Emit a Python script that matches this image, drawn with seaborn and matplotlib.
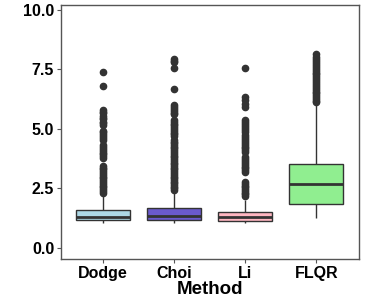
import numpy as np
import pandas as pd
import matplotlib
matplotlib.use("Agg")
import matplotlib.pyplot as plt
import seaborn as sns

# ---- data ----
methods = ["Dodge", "Choi", "Li", "FLQR"]
colors = ["#ADD8E6", "#6A5ACD", "#FFB6C1", "#90EE90"]

whisker_lo = [1.04, 1.05, 1.04, 1.25]
q1 = [1.16, 1.18, 1.15, 1.84]
median = [1.32, 1.35, 1.32, 2.68]
q3 = [1.60, 1.66, 1.53, 3.53]
whisker_hi = [2.20, 2.30, 2.00, 6.00]

out_dodge = [7.38, 6.81, 5.80, 5.73, 5.65, 5.56, 5.48, 5.40, 5.31, 5.24, 5.15,
             4.93, 4.86, 4.78, 4.70, 4.62, 4.54, 4.33, 4.25, 4.17, 4.09, 4.01,
             3.94, 3.86, 3.78, 3.45, 3.38, 3.30, 3.22, 3.15, 3.07, 3.00, 2.92,
             2.85, 2.77, 2.70, 2.62, 2.55, 2.47, 2.40, 2.33]
out_choi = [7.95, 7.87, 7.80, 7.55, 6.67, 6.00, 5.92, 5.84, 5.77, 5.69, 5.62,
            5.38, 5.30, 5.22, 5.15, 5.07, 5.00, 4.92, 4.84, 4.77, 4.70, 4.54,
            4.47, 4.40, 4.32, 4.25, 4.18, 4.10, 4.03, 3.96, 3.88, 3.81, 3.74,
            3.66, 3.59, 3.52, 3.44, 3.37, 3.30, 3.22, 3.15, 3.08, 3.00, 2.93,
            2.86, 2.78, 2.71, 2.64, 2.57, 2.50, 2.44]
out_li = [7.55, 6.36, 6.22, 6.05, 5.92, 5.36, 5.28, 5.20, 5.12, 5.04, 4.96,
          4.88, 4.74, 4.66, 4.58, 4.50, 4.42, 4.34, 4.26, 4.18, 4.10, 4.02,
          3.82, 3.74, 3.66, 3.58, 3.50, 3.42, 3.34, 3.26, 3.18, 2.77, 2.70,
          2.62, 2.55, 2.47, 2.40, 2.32, 2.25, 2.17]
out_flqr = [8.13, 8.02, 7.93, 7.85, 7.77, 7.69, 7.61, 7.53, 7.45, 7.37, 7.29,
            7.21, 7.13, 7.05, 6.97, 6.89, 6.81, 6.73, 6.65, 6.57, 6.49, 6.41,
            6.33, 6.26, 6.19, 6.12]
outliers = [out_dodge, out_choi, out_li, out_flqr]

# ---- build a table whose box statistics equal the values above ----
rows = []
for i, name in enumerate(methods):
    m = len(outliers[i]) + 1
    vals = ([whisker_lo[i]] + [q1[i]] * m + [median[i]] * m + [q3[i]] * m
            + [whisker_hi[i]] + list(outliers[i]))
    rows += [(name, v) for v in vals]
df = pd.DataFrame(rows, columns=["Method", "Value"])

# ---- plot ----
sns.set_theme(style="white")
plt.rcParams["font.family"] = ["Liberation Sans", "DejaVu Sans"]

fig = plt.figure(figsize=(3.66, 3.05), dpi=100)
ax = fig.add_axes([0.167, 0.151, 0.814, 0.833])

edge = "#333333"
sns.boxplot(data=df, x="Method", y="Value", hue="Method", order=methods,
            hue_order=methods, palette=colors, legend=False, width=0.76,
            linewidth=1.0, linecolor=edge, showcaps=False, saturation=1,
            medianprops=dict(color=edge, linewidth=2.0),
            flierprops=dict(marker="o", markersize=4.5, markerfacecolor=edge,
                            markeredgecolor=edge, alpha=1), ax=ax)

ax.set_xlim(-0.59, 3.6)
ax.set_ylim(-0.46, 10.21)
ax.set_yticks([0, 2.5, 5.0, 7.5, 10.0])
ax.set_yticklabels(["0.0", "2.5", "5.0", "7.5", "10.0"])
ax.set_ylabel("")
ax.set_xlabel("Method", fontsize=13.5, fontweight="bold", color="black", labelpad=0)

for s in ax.spines.values():
    s.set_visible(True)
    s.set_color("#555555")
    s.set_linewidth(1.0)

ax.tick_params(axis="both", which="major", length=3, width=0.8, color="#555555",
               labelsize=11.5, labelcolor="black", pad=2, left=True, bottom=True)
for lab in ax.get_xticklabels() + ax.get_yticklabels():
    lab.set_fontweight("bold")

fig.savefig("out.png", dpi=100)
